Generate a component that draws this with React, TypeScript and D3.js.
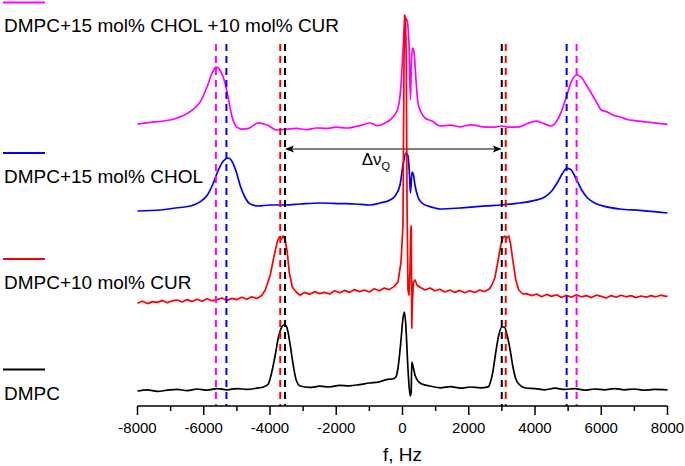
import React from "react";
import * as d3 from "d3";

// ---- data (Hz, relative intensity) ----
const magentaData: [number, number][] = [
  [-8000, 0.5], [-7608, 0.9], [-7216, 1.25], [-6915, 1.7], [-6614, 2.6], [-6312, 4.2], [-6101, 6.1],
  [-5899, 9.8], [-5749, 13.2], [-5628, 14.7], [-5499, 13.8], [-5369, 11.1], [-5249, 6.5], [-5146, 2.3],
  [-4996, -0.3], [-4845, -0.8], [-4646, -0.6], [-4345, 0.8], [-4092, 0.25], [-3790, -1],
  [-3500, -0.8], [-3200, -0.6], [-2900, -0.9], [-2600, -0.5], [-2300, -0.6], [-2000, -0.3], [-1700, -0.5],
  [-1400, -0.1], [-1200, 0.3], [-979, 0.75], [-768, 0.1], [-527, 0.75], [-286, 2.25], [-136, 4.5],
  [-45, 10.25], [15, 19], [75, 27], [136, 26.5], [196, 20.25], [241, 6.5], [271, 16.5], [301, 19.5],
  [346, 18.5], [407, 11.5], [467, 5.75], [557, 3.5], [678, 2], [889, 1.25], [1130, 0], [1431, 0.2],
  [1732, -0.2], [2085, 0.3], [2435, -0.2], [2736, -0.3], [2989, 0], [3239, -0.3], [3540, -0.2],
  [3790, 0.7], [4043, 1.2], [4242, 0.7], [4495, 0], [4646, 1.1], [4797, 3.6], [4947, 7.3], [5098, 11.1],
  [5249, 12.75], [5399, 12.2], [5550, 10.25], [5701, 8.2], [5851, 6.1], [6002, 4], [6153, 3.6],
  [6351, 2.75], [6604, 2.2], [6755, 1.7], [7056, 1.3], [7358, 1], [7659, 0.7], [8000, 0.4],
];

const blueData: [number, number][] = [
  [-8000, -0.25], [-7307, 0], [-6855, 0.5], [-6403, 1], [-6101, 2.1], [-5890, 3.75], [-5710, 6.75],
  [-5559, 10], [-5408, 12.25], [-5258, 13], [-5137, 12], [-5017, 9.5], [-4896, 6], [-4745, 3],
  [-4595, 1.5], [-4354, 1], [-3992, 1.25], [-3540, 1.25], [-3088, 1.5], [-2486, 1.75], [-1883, 1.6],
  [-1431, 1.5], [-979, 1.25], [-678, 1.75], [-377, 2.5], [-226, 3.5], [-75, 6.25], [15, 11.25],
  [105, 14.25], [166, 13.5], [211, 8.75], [241, 4.25], [286, 9.5], [331, 8.75], [377, 6.25],
  [467, 3.25], [588, 1.75], [768, 1], [979, 0.5], [1130, 0.25], [1732, 0.5], [2335, 0.9], [2938, 1.25],
  [3540, 1.75], [3992, 2.4], [4294, 3.25], [4504, 4.75], [4685, 7], [4836, 9.25], [4956, 10.4],
  [5077, 10.1], [5228, 8], [5408, 5], [5589, 3], [5800, 1.75], [6101, 0.9], [6553, 0.25], [7156, -0.1],
  [8000, -0.75],
];

const redData: [number, number][] = [
  [-8000, -1.8], [-7850, -1.3], [-7700, -1.9], [-7550, -1.4], [-7400, -1.6], [-7250, -1.1], [-7100, -1.7],
  [-6950, -1.2], [-6800, -1.0], [-6650, -1.5], [-6500, -0.9], [-6350, -1.4], [-6200, -0.8], [-6050, -1.3],
  [-5900, -0.7], [-5750, -1.2], [-5600, -0.9], [-5450, -0.5], [-5300, -1.1], [-5150, -0.6], [-5000, -0.9],
  [-4850, -0.3], [-4700, -0.8], [-4550, -0.2], [-4400, -0.6], [-4250, 0.1],
  [-4143, 1.5], [-3992, 5.25], [-3871, 10.25], [-3781, 13.5], [-3721, 14.75], [-3661, 14.25], [-3601, 15],
  [-3540, 14], [-3480, 11], [-3420, 6], [-3329, 2.25], [-3209, 1],
  [-3100, 0.2], [-2950, 0.9], [-2800, 0.4], [-2650, 1.1], [-2500, 0.6], [-2350, 0.9], [-2200, 0.5],
  [-2050, 1.3], [-1900, 0.8], [-1750, 1.4], [-1600, 0.9], [-1450, 1.6], [-1300, 1.1], [-1150, 1.5],
  [-1000, 1.0], [-850, 1.8], [-700, 1.3], [-550, 2.0], [-400, 1.6], [-250, 2.4],
  [-136, 3.5], [-45, 8.5], [15, 17.75], [45, 59], [66, 70.25], [90, 69.5], [114, 59], [136, 24],
  [166, 1.5], [196, 0.25], [226, 6.5], [250, 16.5], [265, 17.5], [280, -8], [301, -1], [331, 3.5],
  [377, 4], [437, 2.75],
  [527, 2.2], [680, 1.5], [830, 2.0], [980, 1.3], [1130, 1.7], [1280, 1.0], [1430, 1.5], [1580, 0.9],
  [1730, 1.4], [1880, 0.8], [2030, 1.3], [2180, 0.9], [2330, 1.5], [2480, 1.1], [2630, 1.8],
  [2697, 2.75], [2787, 4.5], [2877, 8.5], [2968, 12.75], [3028, 14.5], [3088, 15], [3149, 14.5],
  [3209, 15], [3269, 12.75], [3329, 9], [3420, 4], [3510, 1.5], [3631, 0.5],
  [3750, 0.6], [3900, 0.1], [4050, 0.5], [4200, -0.2], [4350, 0.4], [4500, -0.1], [4650, 0.3],
  [4800, -0.4], [4950, 0.2], [5100, -0.3], [5250, 0.3], [5400, -0.2], [5550, 0.1], [5700, -0.4],
  [5850, 0.2], [6000, -0.1], [6150, -0.5], [6300, 0.1], [6450, -0.3], [6600, 0.2], [6750, -0.2],
  [6900, 0.1], [7050, -0.4], [7200, 0.0], [7350, -0.3], [7500, 0.1], [7650, -0.2], [7800, 0.2],
  [7950, -0.1], [8000, 0.0],
];

const blackData: [number, number][] = [
  [-8000, -0.5], [-7700, -0.2], [-7400, -0.6], [-7100, -0.3], [-6800, -0.1], [-6500, -0.4], [-6200, 0.0],
  [-5900, -0.3], [-5600, 0.1], [-5300, -0.2], [-5000, 0.1], [-4700, -0.1], [-4400, 0.2], [-4200, 0.5],
  [-4052, 1.25], [-3932, 4.75], [-3841, 8.5], [-3751, 12.75], [-3661, 15.25], [-3585, 16], [-3510, 15.75],
  [-3450, 14], [-3390, 11], [-3299, 6], [-3209, 2.25], [-3088, 0.75],
  [-2800, 0.4], [-2500, 0.7], [-2200, 0.5], [-1900, 0.9], [-1600, 0.8], [-1300, 1.1], [-1000, 1.5],
  [-700, 1.8], [-450, 2.4], [-300, 2.5], [-200, 3.0],
  [-136, 5.25], [-45, 12.25], [15, 17.75], [60, 19.25], [105, 15.25], [151, 7.25], [196, 1],
  [235, -1.75], [262, -0.75], [280, 6.75], [316, 5.75], [377, 3.5], [467, 2], [588, 1.25], [829, 0.75],
  [1150, 0.3], [1450, 0.6], [1750, 0.2], [2050, 0.5], [2350, 0.3], [2600, 0.6],
  [2636, 1.25], [2727, 4.25], [2817, 9.25], [2907, 13.5], [2998, 15.5], [3073, 15.5], [3149, 13.75],
  [3239, 10.25], [3329, 5.75], [3420, 2.5], [3540, 1], [3721, 0.25],
  [4000, 0.1], [4300, -0.2], [4600, 0.2], [4900, -0.1], [5200, 0.1], [5500, -0.3], [5800, 0.0],
  [6100, -0.2], [6400, 0.1], [6700, -0.2], [7000, 0.0], [7300, -0.3], [7600, -0.1], [8000, -0.2],
];

const seriesNames = ["DMPC", "DMPC+10 mol% CUR", "DMPC+15 mol% CHOL", "DMPC+15 mol% CHOL +10 mol% CUR"];
const seriesColors = ["#000000", "#ff0000", "#0000ff", "#ff00ff"];
const seriesOffsets = [4.25, 27.5, 49, 70];
const seriesData = [blackData, redData, blueData, magentaData];

// dashed marker positions (Hz)
const markerHz = [
  [-3548, 2997], // black
  [-3690, 3117], // red
  [-5316, 4955], // blue
  [-5633, 5256], // magenta
];
const markerTop = 90.5;

const arrowFrom = -3548;
const arrowTo = 2997;
const arrowLevel = 64.25;

const majorTicks = [-8000, -6000, -4000, -2000, 0, 2000, 4000, 6000, 8000];
const minorTicks = [-7000, -5000, -3000, -1000, 1000, 3000, 5000, 7000];
const xTitle = "f, Hz";

const W = 685;
const H = 466;
const FONT = "'Liberation Sans', Arial, Helvetica, sans-serif";

export default function App() {
  const x = d3.scaleLinear().domain([-8000, 8000]).range([137.5, 667.5]);
  const y = d3.scaleLinear().domain([0, 100]).range([406, 6]);
  const axisY = y(0);

  const drawOrder = [0, 2, 3, 1]; // black, blue, magenta, red on top

  const legendLayout = [
    { lineY: 369.5, textY: 400 },
    { lineY: 259, textY: 289 },
    { lineY: 153, textY: 183 },
    { lineY: 2.5, textY: 32 },
  ];

  const ay = y(arrowLevel);
  const ax1 = x(arrowFrom);
  const ax2 = x(arrowTo);

  return (
    <svg
      width={W}
      height={H}
      style={{ position: "absolute", left: 0, top: 0, background: "#fff" }}
      fontFamily={FONT}
    >
      <rect x={0} y={0} width={W} height={H} fill="#fff" />

      {/* arrow */}
      <line x1={ax1 + 6} x2={ax2 - 6} y1={ay} y2={ay} stroke="#000" strokeWidth={1.1} />
      <path d={`M${ax1},${ay} L${ax1 + 9},${ay - 3.5} L${ax1 + 7},${ay} L${ax1 + 9},${ay + 3.5} Z`} fill="#000" />
      <path d={`M${ax2},${ay} L${ax2 - 9},${ay - 3.5} L${ax2 - 7},${ay} L${ax2 - 9},${ay + 3.5} Z`} fill="#000" />
      <text x={x(-1230)} y={y(60.3)} fontSize={17} fill="#000" fontFamily={FONT}>
        Δν
        <tspan fontSize={11} dy={5}>Q</tspan>
      </text>

      {/* spectra */}
      {drawOrder.map((i) => {
        const line = d3
          .line<[number, number]>()
          .x((d) => x(d[0]))
          .y((d) => y(d[1] + seriesOffsets[i]))
          .curve(i === 1 ? d3.curveLinear : d3.curveMonotoneX);
        return (
          <path
            key={"s" + i}
            d={line(seriesData[i]) || ""}
            fill="none"
            stroke={seriesColors[i]}
            strokeWidth={1.7}
            strokeLinejoin="round"
          />
        );
      })}

      {/* dashed markers */}
      {markerHz.map((pair, i) =>
        pair.map((hz, j) => (
          <line
            key={`m${i}-${j}`}
            x1={x(hz)}
            x2={x(hz)}
            y1={y(markerTop)}
            y2={axisY}
            stroke={seriesColors[i]}
            strokeWidth={2}
            strokeDasharray="7,5"
          />
        ))
      )}

      {/* axis */}
      <line x1={x(-8000)} x2={x(8000)} y1={axisY} y2={axisY} stroke="#000" strokeWidth={1.5} />
      {majorTicks.map((t) => (
        <g key={"M" + t}>
          <line x1={x(t)} x2={x(t)} y1={axisY} y2={axisY + 9} stroke="#000" strokeWidth={1.5} />
          <text x={x(t)} y={axisY + 27} textAnchor="middle" fontSize={15} fill="#000">
            {t < 0 ? "-" + Math.abs(t) : String(t)}
          </text>
        </g>
      ))}
      {minorTicks.map((t) => (
        <line key={"m" + t} x1={x(t)} x2={x(t)} y1={axisY} y2={axisY + 5} stroke="#000" strokeWidth={1.5} />
      ))}
      <text x={x(0)} y={461} textAnchor="middle" fontSize={19} fill="#000">
        {xTitle}
      </text>

      {/* legend */}
      {seriesNames.map((name, i) => (
        <g key={"l" + i}>
          <line
            x1={3}
            x2={45}
            y1={legendLayout[i].lineY}
            y2={legendLayout[i].lineY}
            stroke={seriesColors[i]}
            strokeWidth={2}
          />
          <text x={4} y={legendLayout[i].textY} fontSize={19} fill="#000">
            {name}
          </text>
        </g>
      ))}
    </svg>
  );
}
